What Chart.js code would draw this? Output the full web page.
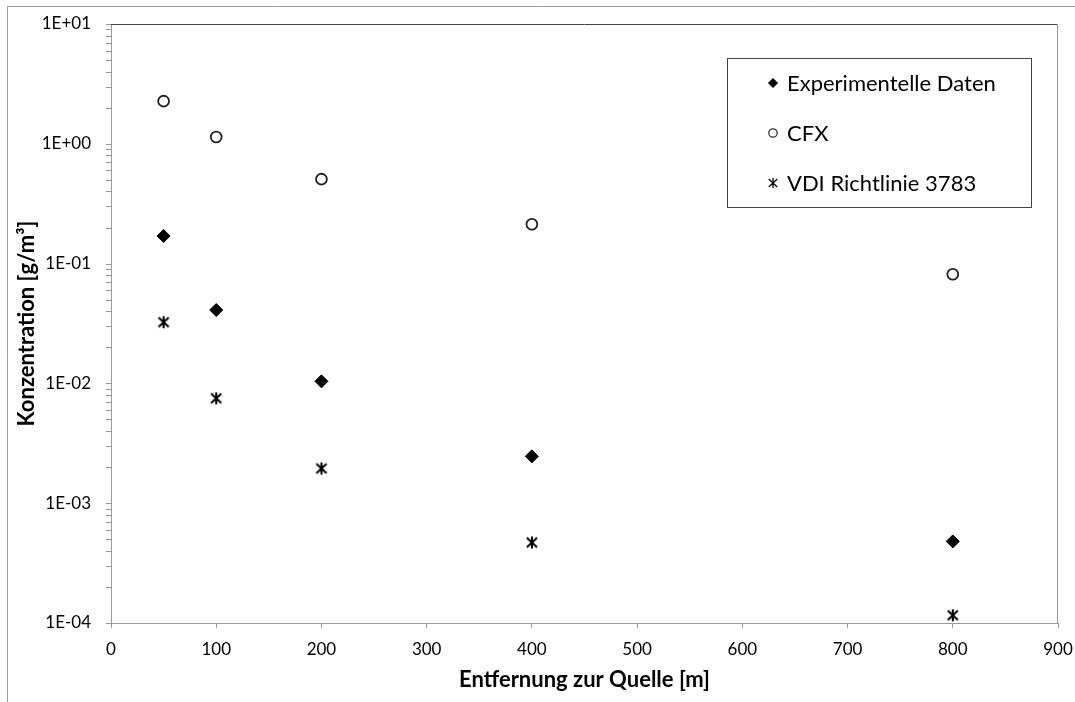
<!DOCTYPE html>
<html>
<head>
<meta charset="utf-8">
<script src="https://cdn.jsdelivr.net/npm/chart.js@4.4.0/dist/chart.umd.min.js"></script>
<style>
  html, body { margin: 0; padding: 0; background: #fff; }
</style>
</head>
<body>
<canvas id="myChart" width="1075" height="702"></canvas>
<script>
const distances = [50, 100, 200, 400, 800];
const experimentell = [0.17, 0.041, 0.0104, 0.00246, 0.00048];
const cfx = [2.27, 1.14, 0.507, 0.213, 0.0815];
const vdi = [0.0324, 0.0075, 0.00195, 0.00047, 0.000116];
const seriesNames = ['Experimentelle Daten', 'CFX', 'VDI Richtlinie 3783'];
const yDecades = [1e-4, 1e-3, 1e-2, 1e-1, 1, 10];

const FONT = 'Lato, "Open Sans", sans-serif';

// Sternchen-Marker wie in Excel
function makeStar(size, lw) {
  const c = document.createElement('canvas');
  c.width = size; c.height = size;
  const g = c.getContext('2d');
  g.strokeStyle = '#000';
  g.lineWidth = lw;
  const m = size / 2, r = size / 2 - 1;
  g.beginPath();
  g.moveTo(m, m - r); g.lineTo(m, m + r);
  g.moveTo(m - r * 0.85, m - r * 0.8); g.lineTo(m + r * 0.85, m + r * 0.8);
  g.moveTo(m + r * 0.85, m - r * 0.8); g.lineTo(m - r * 0.85, m + r * 0.8);
  g.stroke();
  return c;
}
const starBig = makeStar(14, 2);
const starSmall = makeStar(12, 1.3);

function toPoints(arr) {
  return distances.map((x, i) => ({ x: x, y: arr[i] }));
}

function logTickValues() {
  const t = [];
  yDecades.forEach((d, i) => {
    t.push(d);
    if (i < yDecades.length - 1) {
      for (let k = 2; k <= 9; k++) t.push(d * k);
    }
  });
  return t;
}

function sciLabel(v) {
  const e = Math.log10(v);
  if (Math.abs(e - Math.round(e)) > 1e-6) return '';
  const n = Math.round(e);
  return '1E' + (n < 0 ? '-' : '+') + String(Math.abs(n)).padStart(2, '0');
}

const framePlugin = {
  id: 'frame',
  beforeDraw(chart) {
    const ctx = chart.ctx;
    ctx.save();
    ctx.fillStyle = '#fff';
    ctx.fillRect(0, 0, chart.width, chart.height);
    ctx.strokeStyle = '#9a9a9a';
    ctx.lineWidth = 1;
    ctx.beginPath();
    ctx.moveTo(7.5, chart.height);
    ctx.lineTo(7.5, 6.5);
    ctx.lineTo(chart.width, 6.5);
    ctx.stroke();
    ctx.restore();
  },
  afterDraw(chart) {
    const ctx = chart.ctx;
    const a = chart.chartArea;
    const ys = chart.scales.y;
    ctx.save();
    ctx.lineWidth = 1;

    // Teilstriche der log. Achse
    ctx.strokeStyle = '#9a9a9a';
    ctx.beginPath();
    logTickValues().forEach(v => {
      const py = Math.round(ys.getPixelForValue(v)) + 0.5;
      ctx.moveTo(a.left - 5, py);
      ctx.lineTo(a.left, py);
    });
    ctx.stroke();

    // obere und rechte Begrenzung der Zeichenfläche
    ctx.strokeStyle = '#444';
    ctx.beginPath();
    ctx.moveTo(a.left, a.top + 0.5);
    ctx.lineTo(a.right, a.top + 0.5);
    ctx.stroke();
    ctx.strokeStyle = '#9a9a9a';
    ctx.beginPath();
    ctx.moveTo(a.right - 0.5, a.top);
    ctx.lineTo(a.right - 0.5, a.bottom);
    ctx.stroke();

    // Legende
    const bx = a.right - 331, by = a.top + 34, bw = 304, bh = 149;
    ctx.fillStyle = '#fff';
    ctx.fillRect(bx, by, bw, bh);
    ctx.strokeStyle = '#444';
    ctx.strokeRect(bx + 0.5, by + 0.5, bw, bh);
    ctx.font = '22px ' + FONT;
    ctx.textBaseline = 'middle';
    ctx.textAlign = 'left';
    const styles = [
      { pointStyle: 'rectRot', radius: 4.5, fill: '#000', stroke: '#000', bw: 1 },
      { pointStyle: 'circle', radius: 4.2, fill: '#fff', stroke: '#333', bw: 1.3 },
      { pointStyle: starSmall, radius: 5, fill: '#000', stroke: '#000', bw: 0 }
    ];
    seriesNames.forEach((name, i) => {
      const y = by + 25 + i * 50;
      const s = styles[i];
      ctx.fillStyle = s.fill;
      ctx.strokeStyle = s.stroke;
      ctx.lineWidth = s.bw;
      Chart.helpers.drawPoint(ctx, { pointStyle: s.pointStyle, radius: s.radius, rotation: 0, borderWidth: s.bw }, bx + 46, y);
      ctx.fillStyle = '#000';
      ctx.fillText(name, bx + 60, y + 1);
    });
    ctx.restore();
  }
};

const ctx = document.getElementById('myChart').getContext('2d');
const myChart = new Chart(ctx, {
  type: 'scatter',
  data: {
    datasets: [
      {
        label: seriesNames[0],
        data: toPoints(experimentell),
        pointStyle: 'rectRot',
        pointRadius: 6.5,
        backgroundColor: '#000',
        borderColor: '#000',
        borderWidth: 1
      },
      {
        label: seriesNames[1],
        data: toPoints(cfx),
        pointStyle: 'circle',
        pointRadius: 5.4,
        backgroundColor: '#fff',
        borderColor: '#222',
        borderWidth: 1.8
      },
      {
        label: seriesNames[2],
        data: toPoints(vdi),
        pointStyle: starBig,
        pointRadius: 7,
        backgroundColor: '#000',
        borderColor: '#000'
      }
    ]
  },
  options: {
    responsive: false,
    animation: false,
    devicePixelRatio: 1,
    layout: { padding: { top: 24, right: 17, left: 0, bottom: 0 } },
    plugins: {
      legend: { display: false },
      tooltip: { enabled: false }
    },
    scales: {
      x: {
        type: 'linear',
        min: 0,
        max: 900,
        afterFit(scale) {
          scale.height = 79;
          scale.paddingLeft = 0;
          scale.paddingRight = 0;
        },
        ticks: {
          stepSize: 100,
          color: '#000',
          padding: 11,
          font: { family: FONT, size: 17 }
        },
        grid: { drawOnChartArea: false, tickLength: 5, color: '#9a9a9a' },
        border: { color: '#9a9a9a' },
        title: {
          display: true,
          text: 'Entfernung zur Quelle [m]',
          color: '#000',
          padding: { top: 0, bottom: 9 },
          font: { family: FONT, size: 22, weight: 'bold' }
        }
      },
      y: {
        type: 'logarithmic',
        min: 1e-4,
        max: 10,
        afterFit(scale) {
          scale.width = 111;
          scale.paddingTop = 0;
          scale.paddingBottom = 0;
        },
        afterBuildTicks(scale) {
          scale.ticks = logTickValues().map(v => ({ value: v }));
        },
        ticks: {
          autoSkip: false,
          color: '#000',
          padding: 20,
          font: { family: FONT, size: 17 },
          callback: (v) => sciLabel(v)
        },
        grid: { drawOnChartArea: false, drawTicks: false, color: '#9a9a9a' },
        border: { color: '#9a9a9a' },
        title: {
          display: true,
          text: 'Konzentration [g/m³]',
          color: '#000',
          padding: { top: 14, bottom: 0 },
          font: { family: FONT, size: 22, weight: 'bold' }
        }
      }
    }
  },
  plugins: [framePlugin]
});
</script>
</body>
</html>
